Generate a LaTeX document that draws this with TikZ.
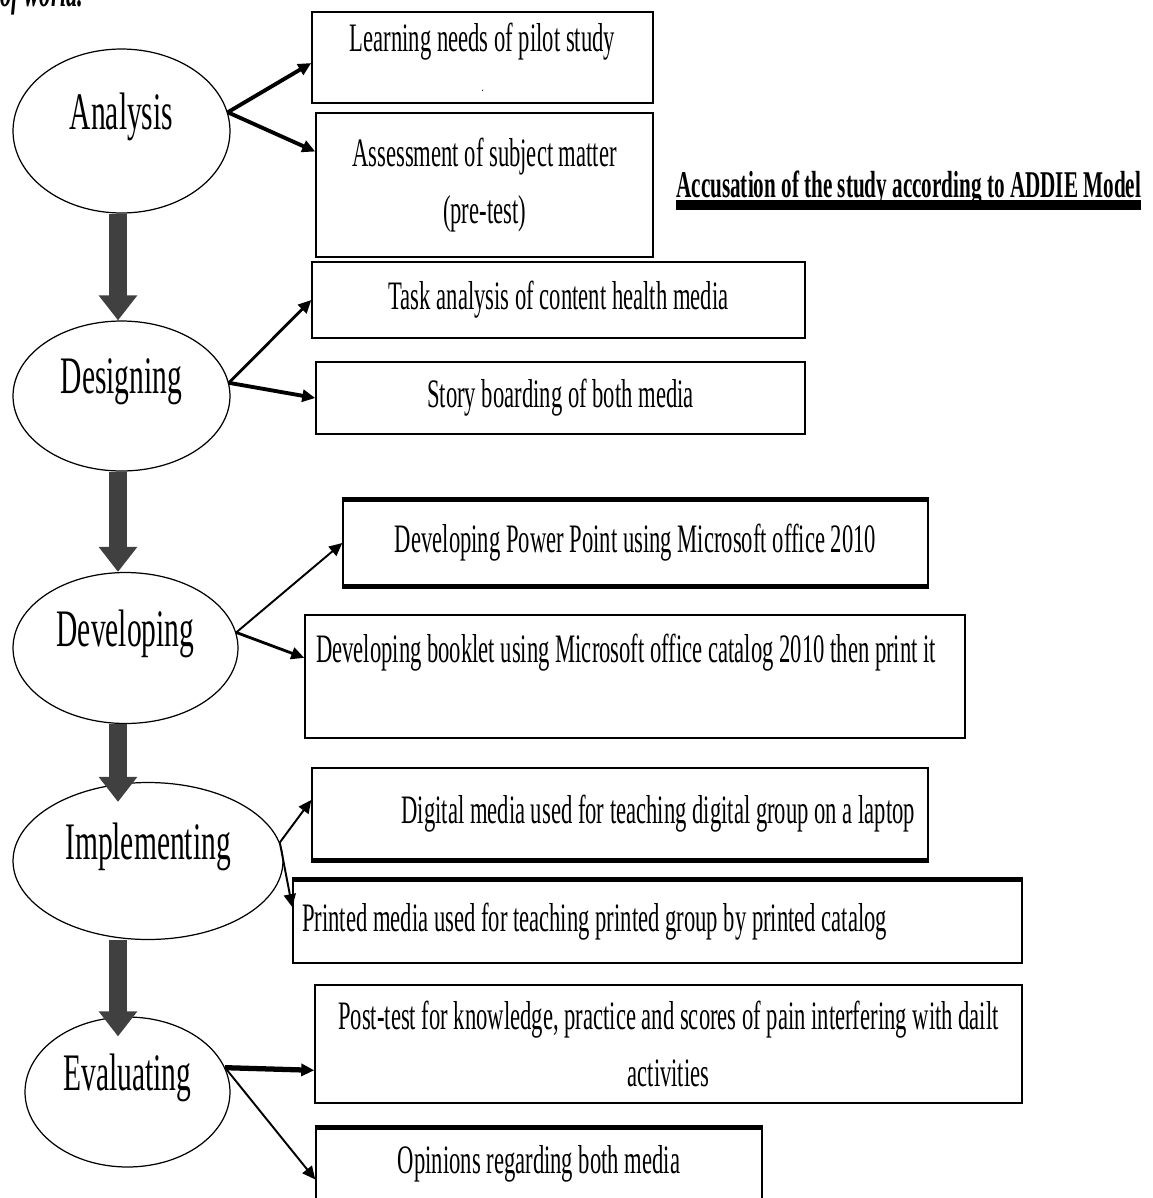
\documentclass[tikz,border=0pt]{standalone}
\usepackage{fontspec}
\setmainfont{Liberation Serif}[FakeStretch=0.56]
\usetikzlibrary{arrows.meta, shapes.geometric, calc}

\begin{document}
\begin{tikzpicture}[
    x=0.02cm, y=-0.02cm,
    phase/.style={draw, ellipse, line width=0.7pt, inner sep=0pt},
    phaselbl/.style={yshift=0.28cm, font=\fontsize{30}{36}\selectfont},
    box/.style={draw, rectangle, line width=0.9pt, inner sep=0.2cm,
                font=\fontsize{23}{32}\selectfont, align=center},
    heavy/.style={line width=2.8pt},
    bigarr/.style={line width=0.38cm, draw=black!75,
                   -{Triangle[width=0.74cm, length=0.5cm]}},
    arr/.style={line width=1.6pt, -{Triangle[width=0.24cm, length=0.26cm]}}
]
\clip (0,0) rectangle (1153,1198);

% cut-off caption line and title
\node[anchor=base west, inner sep=0pt, font=\bfseries\itshape\fontsize{23}{26}\selectfont] (cut) at (0,6) {of world.};
\node[anchor=base west, inner sep=0pt, font=\bfseries\fontsize{21.5}{24}\selectfont] (title) at (676,197) {Accusation of the study according to ADDIE Model};
\draw[line width=0.2cm] ([yshift=-0.16cm]title.base west) -- ([yshift=-0.16cm]title.base east);

% ADDIE phases
\node[phase, minimum width=4.34cm, minimum height=3.28cm, label={[phaselbl]center:Analysis}]     (ana) at (121.5,131)  {};
\node[phase, minimum width=4.34cm, minimum height=3.00cm, label={[phaselbl]center:Designing}]    (des) at (121.5,396)  {};
\node[phase, minimum width=4.50cm, minimum height=3.02cm, label={[phaselbl]center:Developing}]   (dev) at (125.5,648)  {};
\node[phase, minimum width=5.40cm, minimum height=3.14cm, label={[phaselbl]center:Implementing}] (imp) at (148,861)    {};
\node[phase, minimum width=4.10cm, minimum height=3.00cm, label={[phaselbl]center:Evaluating}]   (eva) at (127.5,1092) {};

% Boxes
\node[box, minimum width=6.82cm, minimum height=1.82cm] (learn)  at (482.5,57.5) {Learning needs of pilot study\\[-9pt]{\fontsize{8}{8}\selectfont .}};
\node[box, minimum width=6.74cm, minimum height=2.88cm] (assess) at (484.5,185)  {Assessment of subject matter\\(pre-test)};
\node[box, minimum width=9.86cm, minimum height=1.52cm] (task)   at (558.5,300)  {Task analysis of content health media};
\node[box, minimum width=9.78cm, minimum height=1.44cm] (story)  at (560.5,398)  {Story boarding of both media};
\node[box, minimum width=11.7cm, minimum height=1.72cm] (ppt)    at (635.5,543)  {Developing Power Point using Microsoft office 2010};
\node[box, minimum width=13.2cm, minimum height=2.46cm, inner xsep=0.22cm, text width=12.76cm, align=flush left] (booklet) at (635,676.5)
    {Developing booklet using Microsoft office catalog 2010 then print it\\ \mbox{}};
\node[box, minimum width=12.32cm, minimum height=1.84cm, inner xsep=0.26cm, text width=11.8cm, align=flush right] (digital) at (620,814)
    {Digital media used for teaching digital group on a laptop};
\node[box, minimum width=14.58cm, minimum height=1.66cm, inner xsep=0.18cm, text width=14.22cm, align=flush left] (printed) at (657.5,921.5)
    {Printed media used for teaching printed group by printed catalog};
\node[box, minimum width=14.14cm, minimum height=2.36cm] (post)    at (668.5,1044) {Post-test for knowledge, practice and scores of pain interfering with dailt\\activities};
\node[box, minimum width=8.92cm, minimum height=1.44cm]  (opinion) at (539,1164)   {Opinions regarding both media};

% heavier edges
\draw[heavy] (ppt.north west) -- (ppt.north east);
\draw[heavy] (ppt.south west) -- (ppt.south east);
\draw[heavy] (digital.south west) -- (digital.south east);
\draw[heavy] (printed.north west) -- (printed.north east);
\draw[heavy] (opinion.north west) -- (opinion.north east);

% Phase to phase
\coordinate (axis) at (118,0);
\draw[bigarr] (ana.south -| axis) -- (des.north -| axis);
\draw[bigarr] (des.south -| axis) -- (dev.north -| axis);
\draw[bigarr, shorten >=-0.4cm] (dev.south -| axis) -- (imp.north -| axis);
\draw[bigarr, shorten >=-0.4cm] (imp.south -| axis) -- (eva.north -| axis);

% Phase to tasks
\draw[arr, line width=2.2pt] (ana.10) -- ($(learn.north west)!0.56!(learn.south west)$);
\draw[arr, line width=2.2pt] (ana.10) -- ($(assess.north west)!0.27!(assess.south west)$);
\draw[arr] (des.7) -- (task.west);
\draw[arr, line width=2.2pt] (des.7) -- (story.west);
\draw[arr, line width=1.1pt] (dev.8) -- (ppt.west);
\draw[arr] (dev.8) -- ($(booklet.north west)!0.35!(booklet.south west)$);
\draw[arr, line width=1.1pt] (imp.8) -- ($(digital.north west)!0.35!(digital.south west)$);
\draw[arr, line width=1.1pt] (imp.8) -- ($(printed.north west)!0.33!(printed.south west)$);
\draw[arr, line width=3pt] (eva.14) -- ($(post.north west)!0.72!(post.south west)$);
\draw[arr, line width=1.1pt] (eva.14) -- ($(opinion.north west)!0.71!(opinion.south west)$);

\end{tikzpicture}
\end{document}
